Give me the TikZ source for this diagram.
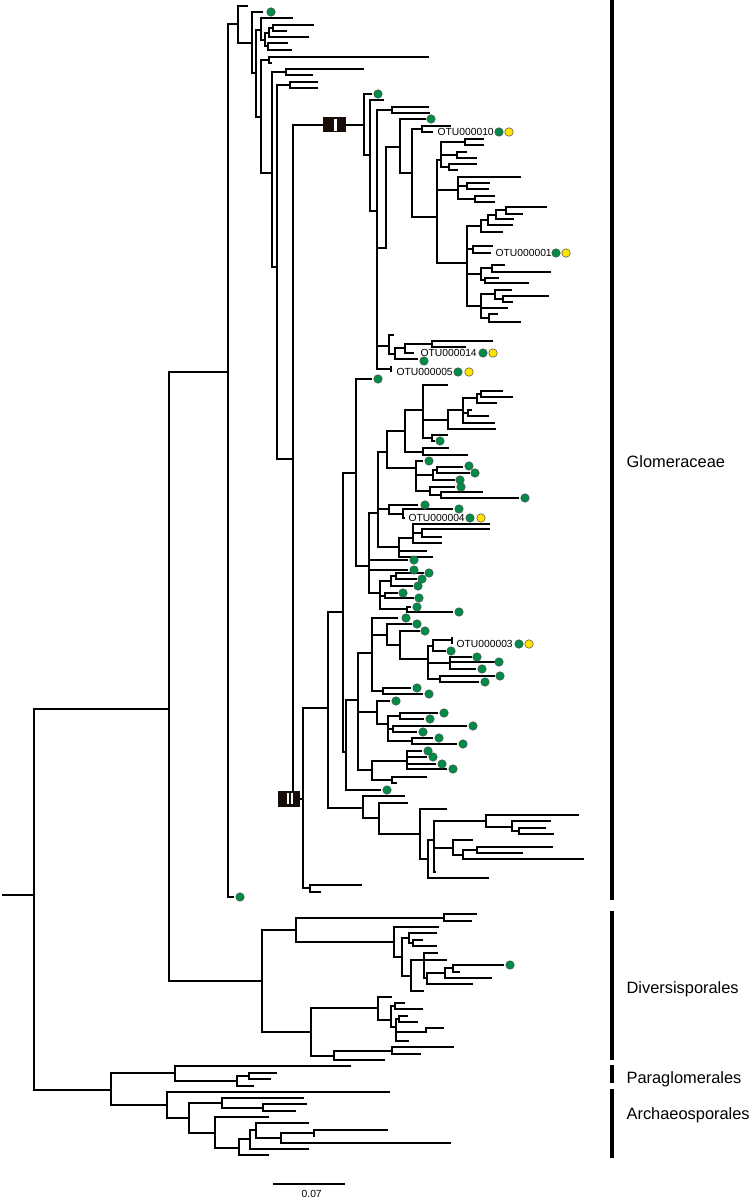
\documentclass[tikz,border=0pt]{standalone}
\usepackage{fontspec}
\setmainfont{Liberation Sans}
\definecolor{glgreen}{RGB}{0,140,70}
\definecolor{glyellow}{RGB}{255,228,0}
\definecolor{boxbrown}{RGB}{22,12,8}
\begin{document}
\begin{tikzpicture}[x=1pt,y=-1pt,line width=1.2pt,
	gdot/.style={circle,fill=glgreen,draw=black!70,line width=0.5pt,inner sep=0pt,minimum size=8.5pt},
	ydot/.style={gdot,fill=glyellow},
	otu/.style={anchor=west,inner sep=0pt,font=\fontsize{10.3}{12}\selectfont},
	clade/.style={anchor=base west,inner sep=0pt,font=\fontsize{16.4}{19}\selectfont},
	markbox/.style={fill=boxbrown,inner sep=0pt}]
			\useasboundingbox (0,0) rectangle (751,1201);
			% backbone
			\draw (2,895) -- (34,895);
			\draw (169,709) -| (34,1090) -- (111,1090);
			\draw (228,372) -| (169,981) -- (262,981);
			
			% Glomeraceae, basal part
			\draw (238,24) -| (228,897) -- (234,897);
			\draw (248,6) -| (238,43) -- (252,43);
			\draw (263,12) -| (252,73) -- (256,73);
			\draw (261,30) -| (256,117) -- (261,117);
			\draw (293,18) -| (261,40) -- (265,40);
			\draw (269,33) -| (265,46) -- (268,46);
			\draw (288,43) -| (268,50) -- (292,50);
			\draw (273,28) -| (269,37) -- (309,37);
			\draw (314,25) -| (273,31) -- (287,31);
			\draw (269,60) -| (261,173) -- (272,173);
			\draw (429,57) -| (269,63) -- (272,63);
			\draw (286,72) -| (272,267) -- (277,267);
			\draw (364,69) -| (286,75) -- (313,75);
			\draw (290,85) -| (277,459) -- (293,459);
			\draw (318,82) -| (290,88) -- (318,88);
			\draw (364,125) -| (293,799) -- (303,799);
			
			% clade I
			\draw (372,94) -| (364,155) -- (370,155);
			\draw (384,100) -| (370,211) -- (377,211);
			\draw (392,110) -| (377,369) -- (391,369);
			\draw (391,366) -- (391,372);
			\draw (377,248) -- (386,248) |- (400,147);
			\draw (377,346) -- (389,346);
			\draw (429,107) -| (392,113) -- (430,113);
			\draw (426,119) -| (400,173) -- (412,173);
			\draw (422,129) -| (412,217) -- (437,217);
			\draw (451,126) -| (422,132) -- (433,132);
			\draw (441,160) -| (437,263) -- (467,263);
			\draw (437,190) -- (458,190);
			\draw (465,142) -| (441,167) -- (449,167);
			\draw (441,155) -- (457,155);
			\draw (484,139) -| (465,145) -- (484,145);
			\draw (467,152) -| (457,158) -- (477,158);
			\draw (477,164) -| (449,170) -- (458,170);
			\draw (521,177) -| (458,199) -- (475,199);
			\draw (458,186) -- (467,186);
			\draw (490,183) -| (467,189) -- (489,189);
			\draw (495,196) -| (475,202) -- (495,202);
			\draw (481,226) -| (467,306) -- (481,306);
			\draw (467,249) -- (473,249);
			\draw (467,274) -- (481,274);
			\draw (488,220) -| (481,232) -- (503,232);
			\draw (496,215) -| (488,225) -- (513,225);
			\draw (506,210) -| (496,219) -- (514,219);
			\draw (547,207) -| (506,214) -- (523,214);
			\draw (493,246) -| (473,253) -- (491,253);
			\draw (492,268) -| (481,280) -- (485,280);
			\draw (505,265) -| (492,272) -- (551,272);
			\draw (499,278) -| (485,283) -- (529,283);
			\draw (495,294) -| (481,318) -- (489,318);
			\draw (481,308) -- (508,308);
			\draw (512,290) -| (495,299) -- (503,299);
			\draw (549,296) -| (503,302) -- (513,302);
			\draw (498,314) -| (489,322) -- (521,322);
			\draw (394,335) -| (389,354) -- (395,354);
			\draw (405,348) -| (395,359) -- (418,359);
			\draw (432,344) -| (405,353) -- (414,353);
			\draw (493,341) -| (432,347) -- (466,347);
			
			% clade II
			\draw (328,708) -| (303,888) -- (310,888);
			\draw (362,885) -| (310,892) -- (321,892);
			\draw (343,612) -| (328,808) -- (363,808);
			\draw (356,473) -| (343,752) -- (346,752);
			\draw (372,379) -| (356,566) -- (369,566);
			\draw (378,513) -| (369,593) -- (380,593);
			\draw (369,560) -- (408,560);
			\draw (369,570) -- (408,570);
			\draw (387,452) -| (378,547) -- (399,547);
			\draw (378,509) -- (389,509);
			\draw (405,431) -| (387,468) -- (416,468);
			\draw (423,410) -| (405,452) -- (423,452);
			\draw (448,385) -| (423,438) -- (432,438);
			\draw (423,420) -- (448,420);
			\draw (463,410) -| (448,429) -- (496,429);
			\draw (477,398) -| (463,423) -- (495,423);
			\draw (463,413) -- (468,413);
			\draw (481,394) -| (477,403) -- (497,403);
			\draw (503,391) -| (481,397) -- (513,397);
			\draw (472,410) -| (468,416) -- (489,416);
			\draw (448,435) -| (432,441) -- (435,441);
			\draw (449,448) -| (423,455) -- (468,455);
			\draw (423,461) -| (416,491) -- (430,491);
			\draw (416,475) -- (433,475);
			\draw (437,470) -| (433,480) -- (455,480);
			\draw (463,467) -| (437,473) -- (470,473);
			\draw (455,487) -| (430,495) -- (441,495);
			\draw (483,492) -| (441,498) -- (519,498);
			\draw (418,505) -| (389,514) -- (403,514);
			\draw (453,509) -| (403,518) -- (405,518);
			\draw (413,538) -| (399,557) -- (433,557);
			\draw (399,551) -- (427,551);
			\draw (490,524) -| (413,543) -- (442,543);
			\draw (413,533) -- (422,533);
			\draw (490,529) -| (422,537) -- (442,537);
			\draw (391,581) -| (380,609) -- (407,609);
			\draw (380,596) -- (385,596);
			\draw (411,607) -| (407,612) -- (453,612);
			\draw (396,576) -| (391,586) -- (413,586);
			\draw (424,573) -| (396,579) -- (417,579);
			\draw (398,593) -| (385,598) -- (414,598);
			\draw (358,700) -| (346,790) -- (381,790);
			\draw (372,653) -| (358,770) -- (372,770);
			\draw (358,712) -- (377,712);
			\draw (398,618) -| (372,691) -- (383,691);
			\draw (372,635) -- (387,635);
			\draw (412,624) -| (387,645) -- (400,645);
			\draw (420,631) -| (400,659) -- (428,659);
			\draw (433,646) -| (428,679) -- (440,679);
			\draw (428,663) -- (450,663);
			\draw (452,640) -| (433,651) -- (446,651);
			\draw (452,637) -- (452,644);
			\draw (472,657) -| (450,669) -- (476,669);
			\draw (450,662) -- (495,662);
			\draw (495,676) -| (440,682) -- (479,682);
			\draw (411,688) -| (383,694) -- (423,694);
			\draw (390,701) -| (377,724) -- (388,724);
			\draw (400,716) -| (388,741) -- (412,741);
			\draw (388,729) -- (393,729);
			\draw (438,713) -| (400,719) -- (424,719);
			\draw (467,726) -| (393,732) -- (417,732);
			\draw (433,738) -| (412,744) -- (457,744);
			\draw (407,761) -| (372,780) -- (392,780);
			\draw (422,751) -| (407,769) -- (447,769);
			\draw (407,757) -- (427,757);
			\draw (407,764) -- (436,764);
			\draw (427,777) -| (392,783) -- (397,783);
			\draw (405,796) -| (363,818) -- (379,818);
			\draw (408,803) -| (379,834) -- (420,834);
			\draw (447,809) -| (420,859) -- (428,859);
			\draw (434,840) -| (428,878) -- (489,878);
			\draw (486,821) -| (434,872) -- (436,872);
			\draw (434,848) -- (453,848);
			\draw (579,815) -| (486,827) -- (512,827);
			\draw (551,821) -| (512,831) -- (519,831);
			\draw (546,828) -| (519,834) -- (554,834);
			\draw (473,840) -| (453,855) -- (463,855);
			\draw (477,850) -| (463,859) -- (584,859);
			\draw (553,847) -| (477,853) -- (523,853);
			
			% Diversisporales
			\draw (296,930) -| (262,1032) -- (311,1032);
			\draw (444,918) -| (296,942) -- (394,942);
			\draw (477,914) -| (444,921) -- (472,921);
			\draw (439,927) -| (394,957) -- (402,957);
			\draw (409,938) -| (402,976) -- (411,976);
			\draw (437,933) -| (409,943) -- (413,943);
			\draw (423,940) -| (413,946) -- (437,946);
			\draw (424,960) -| (411,991) -- (424,991);
			\draw (438,953) -| (424,978) -- (427,978);
			\draw (424,960) -- (447,960);
			\draw (445,973) -| (427,984) -- (473,984);
			\draw (453,968) -| (445,978) -- (492,978);
			\draw (504,965) -| (453,972) -- (460,972);
			\draw (378,1008) -| (311,1056) -- (334,1056);
			\draw (392,997) -| (378,1020) -- (391,1020);
			\draw (395,1006) -| (391,1027) -- (396,1027);
			\draw (405,1003) -| (395,1009) -- (423,1009);
			\draw (399,1019) -| (396,1041) -- (409,1041);
			\draw (396,1032) -- (426,1032) |- (444,1028);
			\draw (408,1016) -| (399,1022) -- (418,1022);
			\draw (392,1051) -| (334,1060) -- (385,1060);
			\draw (454,1047) -| (392,1054) -- (421,1054);
			
			% Paraglomerales and Archaeosporales
			\draw (175,1073) -| (111,1105) -- (167,1105);
			\draw (351,1066) -| (175,1081) -- (237,1081);
			\draw (249,1076) -| (237,1086) -- (254,1086);
			\draw (277,1073) -| (249,1079) -- (271,1079);
			\draw (390,1092) -| (167,1118) -- (189,1118);
			\draw (222,1103) -| (189,1133) -- (215,1133);
			\draw (304,1098) -| (222,1108) -- (263,1108);
			\draw (307,1104) -| (263,1111) -- (296,1111);
			\draw (269,1117) -| (215,1148) -- (239,1148);
			\draw (250,1139) -| (239,1155) -- (269,1155);
			\draw (256,1130) -| (250,1149) -- (309,1149);
			\draw (309,1123) -| (256,1138) -- (281,1138);
			\draw (314,1133) -| (281,1143) -- (451,1143);
			\draw (388,1130) -- (314,1130) -- (314,1137);
			
			% clade marks
			\node[markbox,minimum width=22.4pt,minimum height=15.6pt] (boxI) at (334.5,124.5) {};
			\fill[white] (334.4,119.4) rectangle (337,130.6);
			\node[markbox,minimum width=21.7pt,minimum height=16pt] (boxII) at (289.2,798.7) {};
			\fill[white] (286.7,793) rectangle (289,804.4);
			\fill[white] (291.2,793) rectangle (293.4,804.4);
			
			% dots
			\foreach \x/\y [count=\i] in {271/12,240/897,378/94,431/119,424/361,378/379,440/441,
				429/461,469/466,475/473,460/480,461/487,525/498,425/505,459/509,414/560,414/570,
				429/573,422/579,418/586,403/593,419/598,417/607,459/612,406/618,417/624,425/631,
				451/651,477/657,499/662,482/669,500/676,485/682,417/688,429/694,396/701,444/713,
				430/719,473/726,423/732,439/738,463/744,428/751,433/757,442/764,453/769,387/790,
				510/965,499/132,556/253,483/353,458/372,470/518,519/644}
				\node[gdot] (g\i) at (\x,\y) {};
			\foreach \x/\y [count=\i] in {509/132,566/253,493/353,469/372,481/518,529/644}
				\node[ydot] (y\i) at (\x,\y) {};
			
			% labels
			\node[otu] (otu10) at (437,132) {OTU000010};
			\node[otu] (otu01) at (495,253) {OTU000001};
			\node[otu] (otu14) at (420,353) {OTU000014};
			\node[otu] (otu05) at (396,372) {OTU000005};
			\node[otu] (otu04) at (408,518) {OTU000004};
			\node[otu] (otu03) at (456,644) {OTU000003};
			
			% family bars
			\draw[line width=4.3pt] (612,0) -- (612,900);
			\draw[line width=4.3pt] (612,911) -- (612,1060);
			\draw[line width=4.3pt] (612,1065) -- (612,1083);
			\draw[line width=4.3pt] (612,1089) -- (612,1158);
			\node[clade] (glom) at (626,467) {Glomeraceae};
			\node[clade] (div) at (626,993) {Diversisporales};
			\node[clade] (para) at (626,1083) {Paraglomerales};
			\node[clade] (arch) at (626,1119) {Archaeosporales};
			
			% scale
			\draw (273,1184) coordinate (s1) -- (345,1184) coordinate (s2);
			\node[font=\fontsize{10.3}{12}\selectfont,inner sep=0pt] (scl) at (311.7,1194) {0.07};
			\end{tikzpicture}
\end{document}
